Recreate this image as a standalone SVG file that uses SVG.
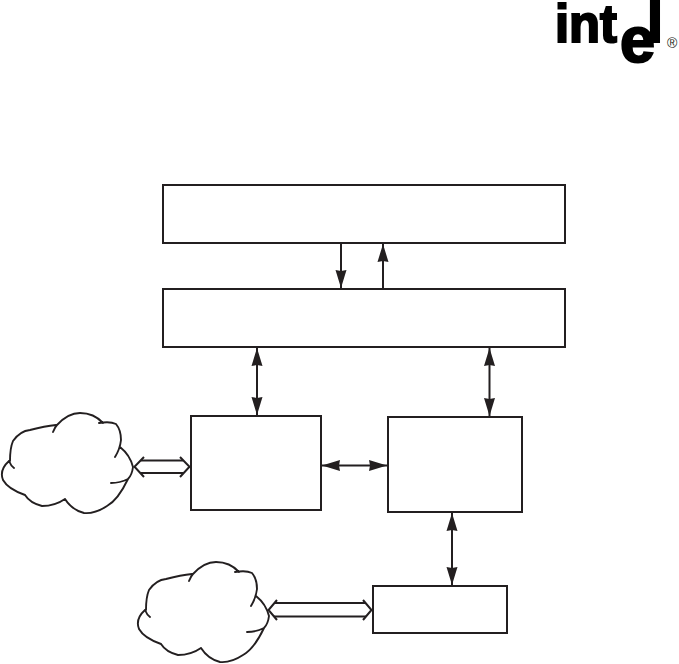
<svg xmlns="http://www.w3.org/2000/svg" width="679" height="664" viewBox="0 0 679 664">
<style>
.box{fill:#fff;stroke:#231f20;stroke-width:2}
.line{fill:none;stroke:#231f20;stroke-width:2}
.cloud{fill:none;stroke:#231f20;stroke-width:1.9;stroke-linecap:round;stroke-linejoin:round}
.thin{fill:none;stroke:#231f20;stroke-width:2}
.logo{font-family:"Liberation Sans",Arial,sans-serif;font-weight:bold;fill:#000;stroke:#000;stroke-width:2.2}
</style>
<defs>
<marker id="head" markerUnits="userSpaceOnUse" markerWidth="20" markerHeight="14" viewBox="0 0 20 14" refX="19" refY="7" orient="auto-start-reverse">
<path d="M19 7L1 1.500L2 7L1 12.500Z" fill="#231f20"/>
</marker>
<path id="cloudShape" d="M53 432Q55 427 57 425Q68 413 80 413Q94 413 103 423M99 423Q110 421 116 424Q121 430 121 440Q120 449 115 457M120 447Q130 455 133 467Q132 475 128 479M128 479Q120 483 111 483M128 479Q118 500 107 506Q95 514 84 513Q72 510 65 499M65 499Q55 506 42 506Q30 503 25 495M25 495Q8 489 3 480Q-1 470 9 461M9 461Q11 466 14 468M10 461Q10 448 13 441Q20 431 30 430Q45 426 56 425"/>
</defs>
<g id="logo">
<text class="logo" x="555" y="42" font-size="54" textLength="62" lengthAdjust="spacingAndGlyphs">int</text>
<text class="logo" x="620" y="62" font-size="64" textLength="35" lengthAdjust="spacingAndGlyphs">e</text>
<text class="logo" x="647" y="42" font-size="58" textLength="16" lengthAdjust="spacingAndGlyphs">l</text>
<text x="667" y="48" font-size="14" font-family="'Liberation Sans',Arial,sans-serif" fill="#231f20">®</text>
</g>
<g id="connectors">
<line class="line" x1="341" y1="243" x2="341" y2="288" marker-end="url(#head)"/>
<line class="line" x1="383" y1="289" x2="383" y2="244" marker-end="url(#head)"/>
<line class="line" x1="257" y1="348" x2="257" y2="415" marker-start="url(#head)" marker-end="url(#head)"/>
<line class="line" x1="489.500" y1="348" x2="489.500" y2="416" marker-start="url(#head)" marker-end="url(#head)"/>
<line class="line" x1="322" y1="465.500" x2="387" y2="465.500" marker-start="url(#head)" marker-end="url(#head)"/>
<line class="line" x1="452" y1="513" x2="452" y2="585" marker-start="url(#head)" marker-end="url(#head)"/>
<g id="hollow-1">
<path class="line" d="M144 457L134.500 466.700L144 477M180 457L189.500 466.700L180 477"/>
<path class="thin" d="M141 460.500H183M141 473H183"/>
</g>
<g id="hollow-2">
<path class="line" d="M277 600L268.500 610L277 620M363 600L371.500 610L363 620"/>
<path class="thin" d="M274 603H366M274 616.500H366"/>
</g>
</g>
<g id="node-top"><rect class="box" x="163" y="185" width="402" height="58"/></g>
<g id="node-middle"><rect class="box" x="163" y="289" width="402" height="58"/></g>
<g id="node-left"><rect class="box" x="191" y="416" width="130" height="94"/></g>
<g id="node-right"><rect class="box" x="388" y="417" width="134" height="95"/></g>
<g id="node-bottom"><rect class="box" x="373" y="586" width="134" height="47"/></g>
<g id="cloud-1"><use href="#cloudShape" class="cloud"/></g>
<g id="cloud-2"><use href="#cloudShape" class="cloud" x="136" y="149"/></g>
</svg>
